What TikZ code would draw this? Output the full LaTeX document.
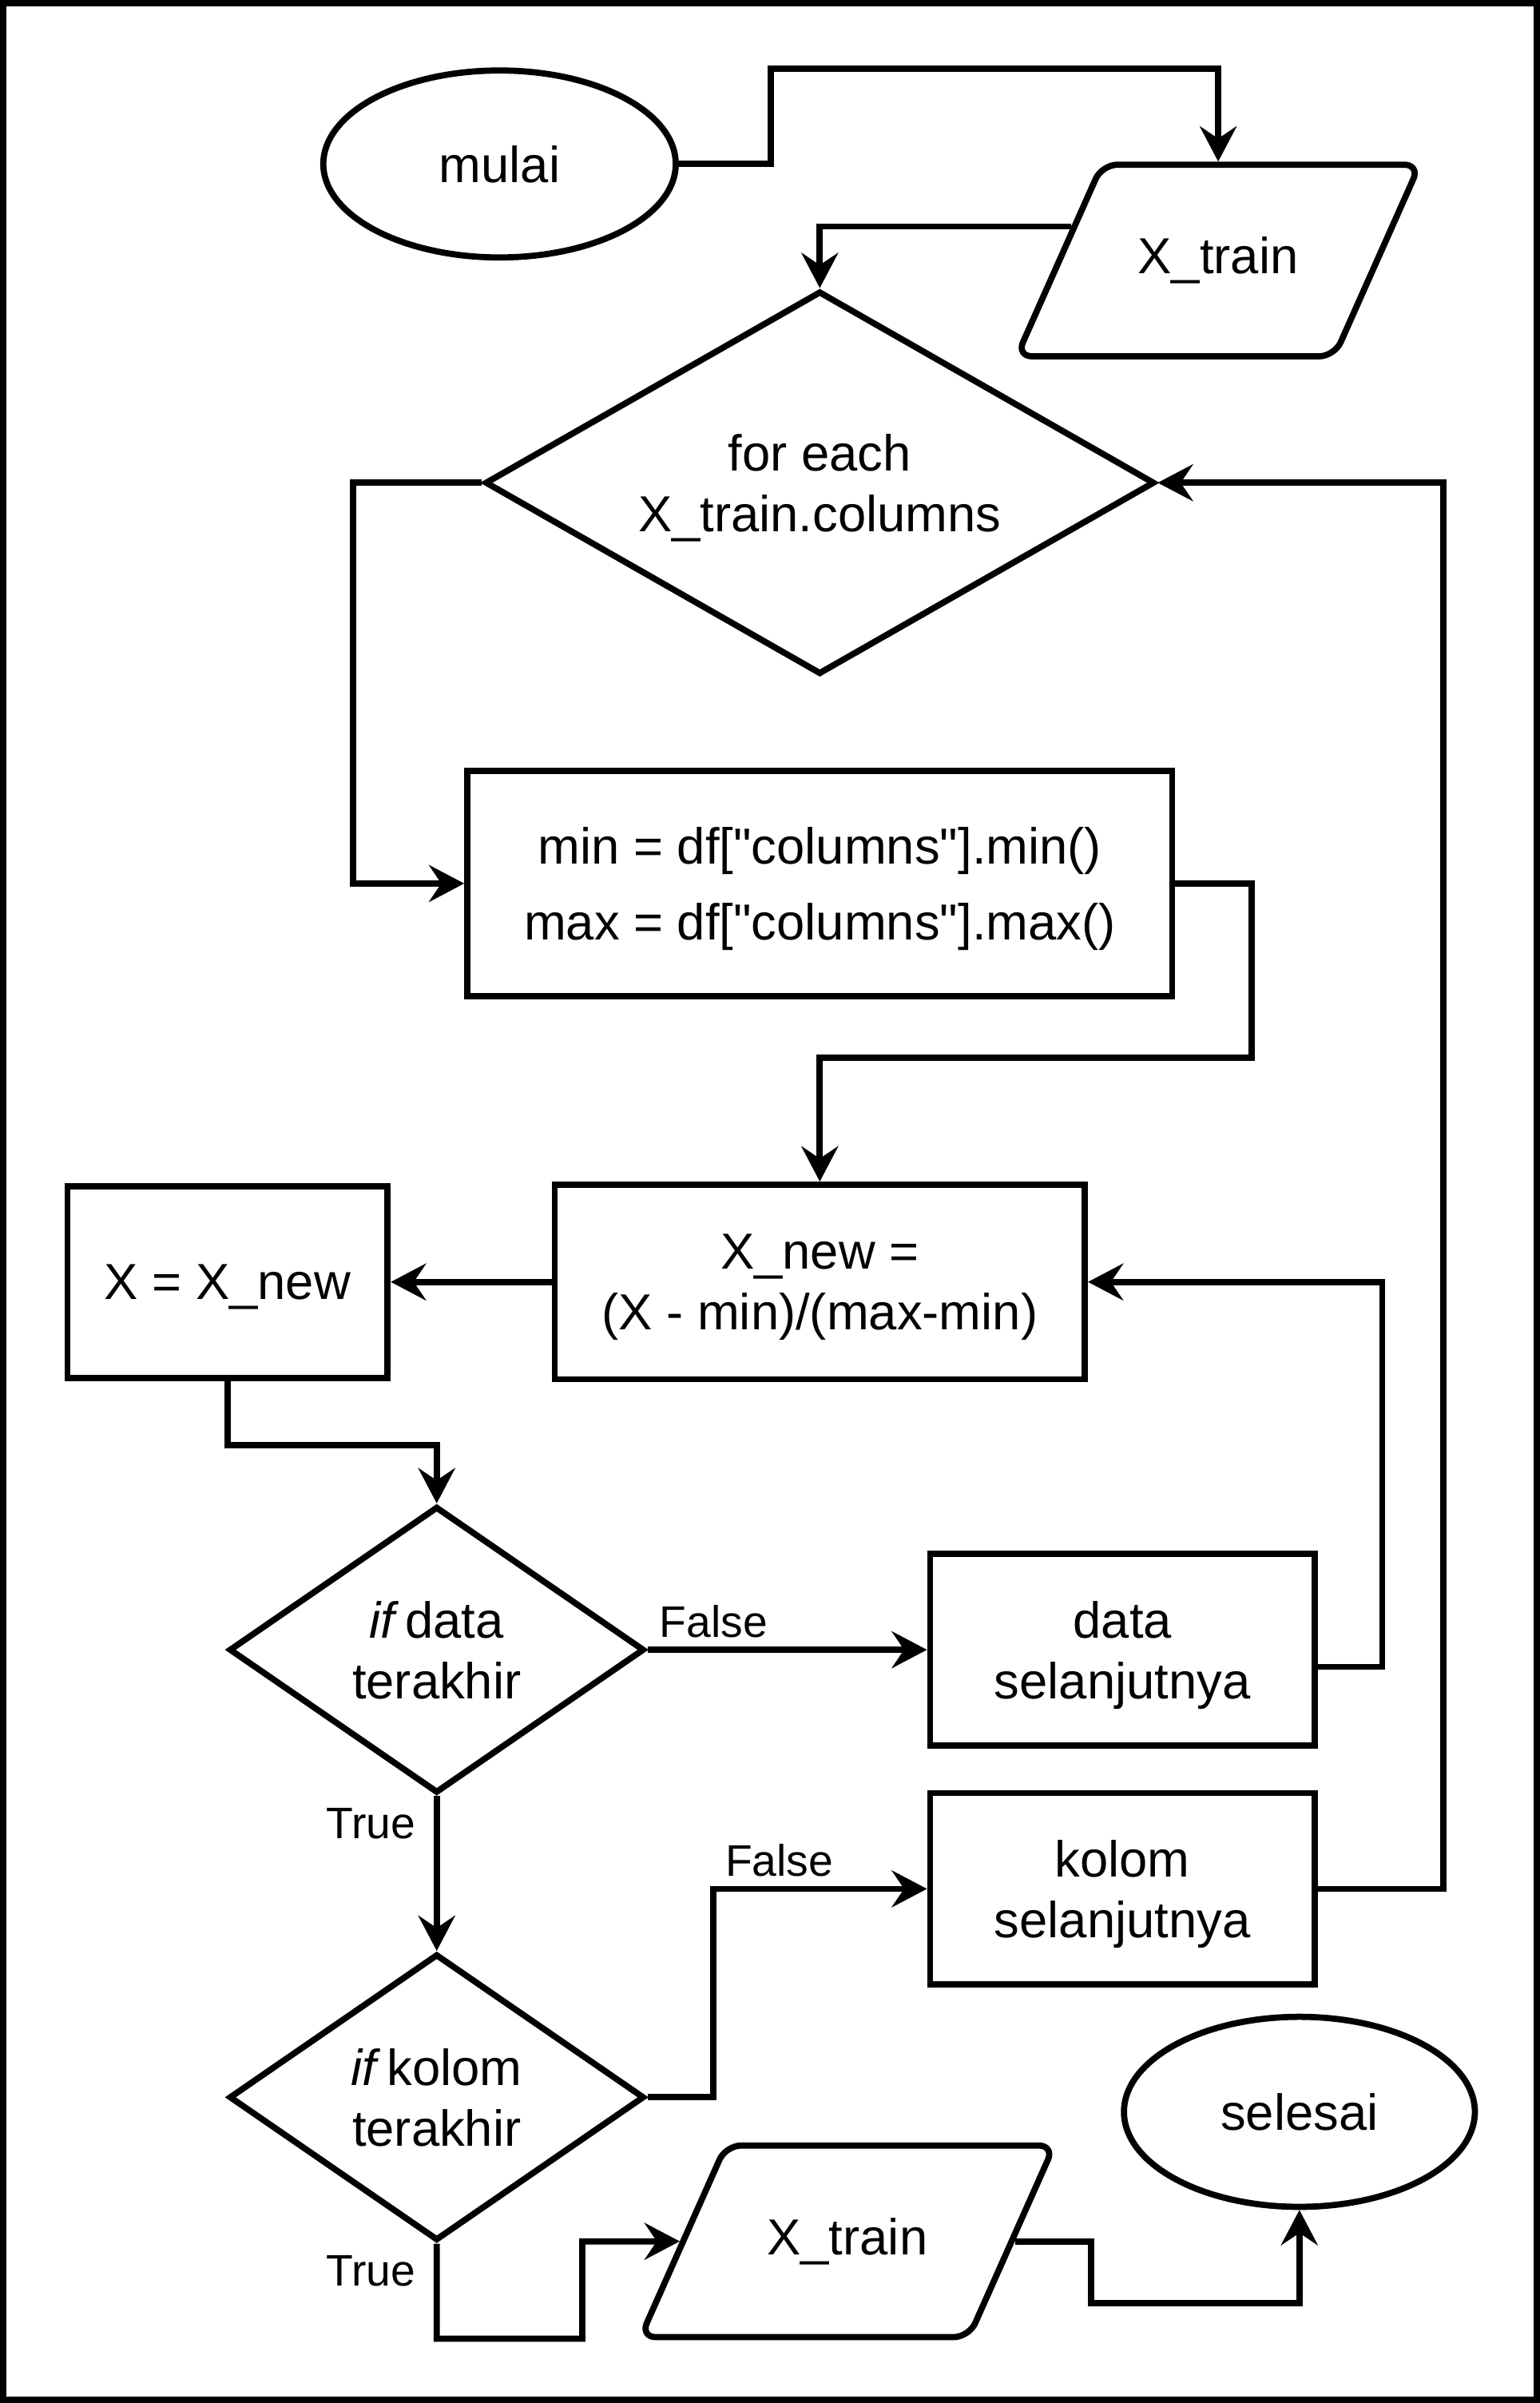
\documentclass[tikz,border=0pt]{standalone}
\usepackage{fontspec}
\setmainfont{Liberation Sans}
\usepackage{tikz}
\usetikzlibrary{arrows.meta,positioning,shapes.geometric}
\newcommand{\mainsize}{\fontsize{18.8}{22.5}\selectfont}
\newcommand{\labelsize}{\fontsize{16.4}{19}\selectfont}
\newcommand{\dq}{\XeTeXglyph\XeTeXcharglyph"22\relax}
\tikzset{
  flowline/.style={black, -{Stealth[length=0.46cm,width=0.48cm,inset=0.16cm]}, line width=2.3pt},
  frameline/.style={black, line width=2.3pt},
  termnode/.style={draw, ellipse, line width=2.3pt, inner sep=0pt, text depth=0pt, minimum width=4.6cm, minimum height=2.44cm, font=\mainsize},
  datanode/.style={draw, trapezium, trapezium left angle=66, trapezium right angle=114, trapezium stretches body, rounded corners=0.2cm, line width=2.3pt, inner xsep=0pt, text height=13.5pt, text depth=3.5pt, inner ysep=27.07pt, minimum width=5.3cm, font=\mainsize},
  procnode/.style={draw, rectangle, line width=2.3pt, align=center, inner sep=0pt, text depth=0pt, font=\mainsize},
  decnode/.style={draw, diamond, line width=2.3pt, align=center, inner sep=0pt, text depth=0pt, font=\mainsize},
  edgelabel/.style={font=\labelsize}
}

\begin{document}
\begin{tikzpicture}
  \useasboundingbox (0,0) rectangle (20.10,-31.36);
  \draw[frameline] (0.04,-0.04) rectangle (20.06,-31.32);
  \node[termnode] (mulai) at (6.52,-2.14) {mulai};
  \node[datanode, minimum width=5.26cm] (inputx) at (15.90,-3.40) {X\_train};
  \node[decnode, minimum width=8.74cm, minimum height=5.00cm, aspect=1.75] (loopcol) at (10.70,-6.30) {for each\\X\_train.columns};
  \node[procnode, minimum width=9.20cm, minimum height=2.94cm] (minmax) at (10.70,-11.53) {min = df[\dq columns\dq].min()\\[5.9pt]max = df[\dq columns\dq].max()};
  \node[procnode, minimum width=6.92cm, minimum height=2.54cm] (normx) at (10.70,-16.73) {X\_new =\\(X - min)/(max-min)};
  \node[procnode, minimum width=4.18cm, minimum height=2.50cm] (assign) at (2.97,-16.73) {X = X\_new};
  \node[decnode, minimum width=5.42cm, minimum height=3.74cm, aspect=1.45] (lastdata) at (5.70,-21.53) {\textit{if}\kern0.12em data\\terakhir};
  \node[procnode, minimum width=5.02cm, minimum height=2.50cm] (nextdata) at (14.65,-21.53) {data\\selanjutnya};
  \node[procnode, minimum width=5.02cm, minimum height=2.50cm] (nextcol) at (14.65,-24.65) {kolom\\selanjutnya};
  \node[decnode, minimum width=5.42cm, minimum height=3.74cm, aspect=1.45] (lastcol) at (5.70,-27.37) {\textit{if}\kern0.12em kolom\\terakhir};
  \node[datanode, minimum width=5.40cm] (outputx) at (11.06,-29.25) {X\_train};
  \node[termnode, minimum width=4.58cm, minimum height=2.48cm] (selesai) at (16.96,-27.56) {selesai};

  \draw[flowline] (mulai.east) -| (10.06,-0.90) -| (inputx.north);
  \draw[flowline] (inputx.167) -| (loopcol.north);
  \draw[flowline] (loopcol.west) -- ++(-1.68,0) |- (minmax.west);
  \draw[flowline] (minmax.east) -| (16.34,-13.80) -| (normx.north);
  \draw[flowline] (normx.west) -- (assign.east);
  \draw[flowline] (assign.south) -- ++(0,-0.84) -| (lastdata.north);
  \draw[flowline] (lastdata.east) -- node[edgelabel, above right, pos=0] {False} (nextdata.west);
  \draw[flowline] (nextdata.-5) -- ++(0.84,0) |- (normx.east);
  \draw[flowline] (lastdata.south) -- node[edgelabel, below left, pos=0, xshift=-0.12cm] {True} (lastcol.north);
  \draw[flowline] (lastcol.east) -- ++(0.86,0) |- node[edgelabel, above right, pos=0.5] {False} (nextcol.west);
  \draw[flowline] (nextcol.east) -- ++(1.64,0) |- (loopcol.east);
  \draw[flowline] (lastcol.south) -- node[edgelabel, below left, pos=0, xshift=-0.12cm] {True} ++(0,-1.24) -| (7.60,-29.25) -- (outputx.west);
  \draw[flowline] (outputx.east) -| (14.24,-30.06) -| (selesai.south);
\end{tikzpicture}
\end{document}
